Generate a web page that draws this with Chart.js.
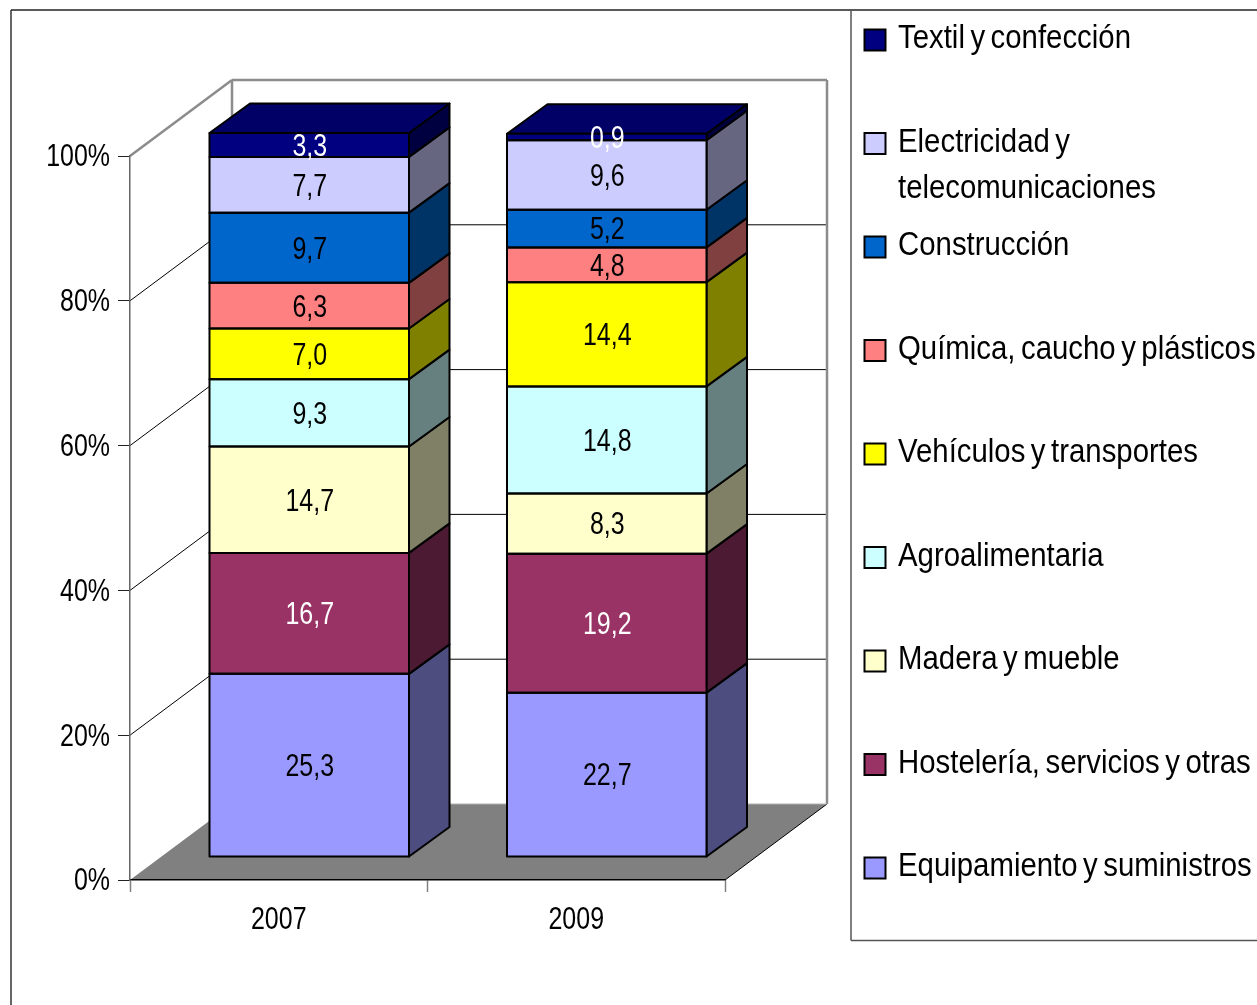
<!DOCTYPE html>
<html>
<head>
<meta charset="utf-8">
<style>html,body{margin:0;padding:0;background:#fff}canvas{display:block}</style>
<script src="https://cdn.jsdelivr.net/npm/chart.js@4"></script>
</head>
<body>
<canvas id="c" width="1257" height="1005"></canvas>
<script>
const categories = ['2007', '2009'];
const equipamiento = [25.3, 22.7];
const hosteleria = [16.7, 19.2];
const madera = [14.7, 8.3];
const agroalimentaria = [9.3, 14.8];
const vehiculos = [7.0, 14.4];
const quimica = [6.3, 4.8];
const construccion = [9.7, 5.2];
const electricidad = [7.7, 9.6];
const textil = [3.3, 0.9];
const seriesNames = ['Equipamiento y suministros', 'Hostelería, servicios y otras', 'Madera y mueble', 'Agroalimentaria', 'Vehículos y transportes', 'Química, caucho y plásticos', 'Construcción', ['Electricidad y', 'telecomunicaciones'], 'Textil y confección'];
const seriesValues = [equipamiento, hosteleria, madera, agroalimentaria, vehiculos, quimica, construccion, electricidad, textil];
const frontColors = ['#9999FF', '#993366', '#FFFFCC', '#CCFFFF', '#FFFF00', '#FF8080', '#0066CC', '#CCCCFF', '#000080'];
const sideColors = ['#4D4D80', '#4D1A33', '#808066', '#668080', '#808000', '#804040', '#003366', '#666680', '#000040'];
const labelColors = ['#000', '#fff', '#000', '#000', '#000', '#000', '#000', '#000', '#fff'];
const yTicks = [0, 20, 40, 60, 80, 100];

const FONT = '"Liberation Sans", Arial, sans-serif';
const FS = 32;
const LEGEND_FS = 33;
const WALL = {dx: 102, dy: -76};
const BAR_OFF = {dx: 30.5, dy: -23};
const BAR_DEPTH = {dx: 40.5, dy: -29.5};

function poly(ctx, pts, fill, stroke, lw) {
  ctx.beginPath();
  pts.forEach((p, i) => i ? ctx.lineTo(p[0], p[1]) : ctx.moveTo(p[0], p[1]));
  ctx.closePath();
  if (fill) { ctx.fillStyle = fill; ctx.fill(); }
  if (stroke) { ctx.strokeStyle = stroke; ctx.lineWidth = lw; ctx.lineJoin = 'round'; ctx.stroke(); }
}
function seg(ctx, x0, y0, x1, y1, color, lw) {
  ctx.beginPath(); ctx.moveTo(x0, y0); ctx.lineTo(x1, y1);
  ctx.strokeStyle = color; ctx.lineWidth = lw; ctx.stroke();
}

const canvas = document.getElementById('c');
const rawCtx = canvas.getContext('2d');
// the reference uses a condensed face: squeeze all text horizontally around its anchor
const rawFillText = rawCtx.fillText.bind(rawCtx);
rawCtx.fillText = function (t, x, y) {
  const s = String(t);
  const sx = /^[\d,.%]+$/.test(s) ? 0.78 : 0.89;
  rawCtx.save();
  rawCtx.translate(x, y + 1.5);
  rawCtx.scale(sx, 1);
  rawFillText(s, 0, 0);
  rawCtx.restore();
};

const frame3d = {
  id: 'frame3d',
  beforeDraw(chart) {
    const {ctx, chartArea: a, scales: {y}} = chart;
    ctx.save();
    ctx.fillStyle = '#fff';
    ctx.fillRect(0, 0, chart.width, chart.height);
    seg(ctx, 11, 1005, 11, 10, '#333', 1.5);
    seg(ctx, 11, 10, 1257, 10, '#222', 1.5);
    seg(ctx, 851, 10, 851, 940.5, '#555', 1.5);
    seg(ctx, 851, 940.5, 1257, 940.5, '#555', 1.5);
    const y0 = y.getPixelForValue(0), y100 = y.getPixelForValue(100);
    poly(ctx, [[a.left, y0], [a.right, y0], [a.right + WALL.dx, y0 + WALL.dy], [a.left + WALL.dx, y0 + WALL.dy]], '#808080');
    seg(ctx, a.right, y0, a.right + WALL.dx, y0 + WALL.dy, '#000', 1);
    yTicks.slice(1, -1).forEach(v => {
      const py = y.getPixelForValue(v);
      seg(ctx, a.left, py, a.left + WALL.dx, py + WALL.dy, '#000', 1);
      seg(ctx, a.left + WALL.dx, py + WALL.dy, a.right + WALL.dx, py + WALL.dy, '#000', 1);
    });
    const g = '#8c8c8c';
    seg(ctx, a.left, y100, a.left + WALL.dx, y100 + WALL.dy, g, 2.5);
    seg(ctx, a.left + WALL.dx, y100 + WALL.dy, a.right + WALL.dx, y100 + WALL.dy, g, 2.5);
    seg(ctx, a.left + WALL.dx, y100 + WALL.dy, a.left + WALL.dx, y0 + WALL.dy, g, 2.5);
    seg(ctx, a.right + WALL.dx, y100 + WALL.dy, a.right + WALL.dx, y0 + WALL.dy, g, 2.5);
    seg(ctx, a.left + WALL.dx, y0 + WALL.dy, a.right + WALL.dx, y0 + WALL.dy, '#b0b0b0', 1);
    ctx.restore();
  },
  beforeDatasetsDraw(chart) {
    const ctx = chart.ctx;
    ctx.save();
    ctx.translate(BAR_OFF.dx, BAR_OFF.dy);
    chart.data.datasets.forEach((ds, i) => {
      chart.getDatasetMeta(i).data.forEach(bar => {
        const p = bar.getProps(['x', 'y', 'base', 'width'], true);
        const r = p.x + p.width / 2;
        poly(ctx, [[r, p.base], [r + BAR_DEPTH.dx, p.base + BAR_DEPTH.dy], [r + BAR_DEPTH.dx, p.y + BAR_DEPTH.dy], [r, p.y]], sideColors[i], '#000', 2);
      });
    });
    const last = chart.data.datasets.length - 1;
    chart.getDatasetMeta(last).data.forEach(bar => {
      const p = bar.getProps(['x', 'y', 'width'], true);
      const l = p.x - p.width / 2, r = p.x + p.width / 2;
      poly(ctx, [[l, p.y], [r, p.y], [r + BAR_DEPTH.dx, p.y + BAR_DEPTH.dy], [l + BAR_DEPTH.dx, p.y + BAR_DEPTH.dy]], '#000066', '#000', 2);
    });
  },
  afterDatasetsDraw(chart) {
    const ctx = chart.ctx;
    chart.data.datasets.forEach((ds, i) => {
      chart.getDatasetMeta(i).data.forEach(bar => {
        const p = bar.getProps(['x', 'y', 'base', 'width'], true);
        ctx.strokeStyle = '#000';
        ctx.lineWidth = 2;
        ctx.strokeRect(p.x - p.width / 2, p.y, p.width, p.base - p.y);
      });
    });
    ctx.font = FS + 'px ' + FONT;
    ctx.textAlign = 'center';
    ctx.textBaseline = 'middle';
    chart.data.datasets.forEach((ds, i) => {
      chart.getDatasetMeta(i).data.forEach((bar, j) => {
        const p = bar.getProps(['x', 'y', 'base'], true);
        ctx.fillStyle = labelColors[i];
        ctx.fillText(ds.data[j].toFixed(1).replace('.', ','), p.x + 0.5, (p.y + p.base) / 2 + 0.5);
      });
    });
    ctx.restore();
  },
  afterDraw(chart) {
    const ctx = chart.ctx;
    ctx.save();
    ctx.font = LEGEND_FS + 'px ' + FONT;
    ctx.wordSpacing = '-3px';
    ctx.textAlign = 'left';
    ctx.textBaseline = 'middle';
    const names = seriesNames.slice().reverse();
    const cols = frontColors.slice().reverse();
    names.forEach((name, i) => {
      const cy = 39.5 + i * 103.5;
      ctx.fillStyle = cols[i];
      ctx.fillRect(864.5, cy - 10, 21, 21);
      ctx.strokeStyle = '#000';
      ctx.lineWidth = 2;
      ctx.strokeRect(864.5, cy - 10, 21, 21);
      ctx.fillStyle = '#000';
      [].concat(name).forEach((line, k) => ctx.fillText(line, 898, cy - 2 + k * 46));
    });
    ctx.restore();
  }
};

new Chart(canvas, {
  type: 'bar',
  data: {
    labels: categories,
    datasets: seriesValues.map((vals, i) => ({
      label: [].concat(seriesNames[i]).join(' '),
      data: vals,
      backgroundColor: frontColors[i],
      borderWidth: 0,
      clip: false,
      categoryPercentage: 1,
      barPercentage: 0.6706
    }))
  },
  options: {
    responsive: false,
    animation: false,
    layout: {padding: {left: 0, top: 156, right: 532, bottom: 0}},
    plugins: {legend: {display: false}, tooltip: {enabled: false}},
    scales: {
      x: {
        stacked: true,
        afterFit: s => { s.height = 125; },
        border: {color: '#000', width: 1.5},
        grid: {drawOnChartArea: false, tickLength: 12, tickColor: '#808080', tickWidth: 1.5},
        ticks: {color: '#000', font: {family: FONT, size: FS}, padding: 7, maxRotation: 0}
      },
      y: {
        stacked: true,
        min: 0,
        max: 100,
        afterFit: s => { s.width = 130; },
        afterBuildTicks: s => { s.ticks = yTicks.map(v => ({value: v})); },
        border: {color: '#666', width: 1.5},
        grid: {drawOnChartArea: false, tickLength: 12, tickColor: '#222', tickWidth: 1},
        ticks: {color: '#000', font: {family: FONT, size: FS}, padding: 8, callback: v => v + '%'}
      }
    }
  },
  plugins: [frame3d]
});
</script>
</body>
</html>
